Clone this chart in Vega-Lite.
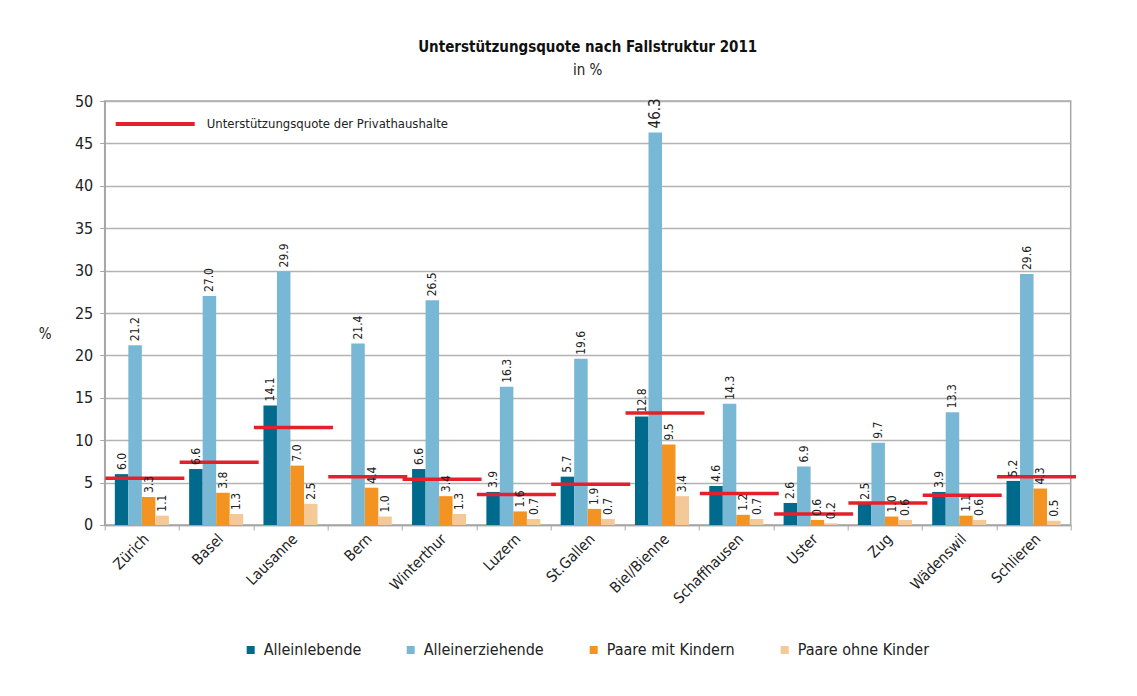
{
  "$schema": "https://vega.github.io/schema/vega-lite/v6.json",
  "width": 966,
  "height": 424,
  "autosize": "none",
  "padding": {"left": 104.7, "top": 101, "right": 66, "bottom": 171},
  "background": "white",
  "title": {
    "text": "Unterstützungsquote nach Fallstruktur 2011",
    "subtitle": "in %",
    "anchor": "middle",
    "offset": 5,
    "fontSize": 15,
    "fontWeight": "bold",
    "font": "Liberation Sans Narrow, DejaVu Sans Condensed, Liberation Sans, sans-serif",
    "subtitleFont": "Liberation Sans Narrow, DejaVu Sans Condensed, Liberation Sans, sans-serif",
    "subtitleFontSize": 15,
    "subtitleColor": "#222",
    "color": "#111",
    "subtitlePadding": 8
  },
  "config": {
    "font": "Liberation Sans Narrow, DejaVu Sans Condensed, Liberation Sans, sans-serif",
    "view": {"stroke": "#a6a6a6", "strokeWidth": 1.5},
    "axis": {
      "labelFont": "Liberation Sans Narrow, DejaVu Sans Condensed, Liberation Sans, sans-serif",
      "titleFont": "Liberation Sans Narrow, DejaVu Sans Condensed, Liberation Sans, sans-serif",
      "labelColor": "#222",
      "titleColor": "#222",
      "domainColor": "#a6a6a6",
      "tickColor": "#a6a6a6",
      "gridColor": "#b3b3b3",
      "gridWidth": 1.3,
      "domainWidth": 1.5
    },
    "legend": {
      "labelFont": "Liberation Sans Narrow, DejaVu Sans Condensed, Liberation Sans, sans-serif",
      "labelColor": "#222",
      "labelLimit": 500
    }
  },
  "datasets": {
    "bars": [
      {"city": "Zürich", "group": "Alleinlebende", "value": 6.0},
      {"city": "Zürich", "group": "Alleinerziehende", "value": 21.2},
      {"city": "Zürich", "group": "Paare mit Kindern", "value": 3.3},
      {"city": "Zürich", "group": "Paare ohne Kinder", "value": 1.1},
      {"city": "Basel", "group": "Alleinlebende", "value": 6.6},
      {"city": "Basel", "group": "Alleinerziehende", "value": 27.0},
      {"city": "Basel", "group": "Paare mit Kindern", "value": 3.8},
      {"city": "Basel", "group": "Paare ohne Kinder", "value": 1.3},
      {"city": "Lausanne", "group": "Alleinlebende", "value": 14.1},
      {"city": "Lausanne", "group": "Alleinerziehende", "value": 29.9},
      {"city": "Lausanne", "group": "Paare mit Kindern", "value": 7.0},
      {"city": "Lausanne", "group": "Paare ohne Kinder", "value": 2.5},
      {"city": "Bern", "group": "Alleinerziehende", "value": 21.4},
      {"city": "Bern", "group": "Paare mit Kindern", "value": 4.4},
      {"city": "Bern", "group": "Paare ohne Kinder", "value": 1.0},
      {"city": "Winterthur", "group": "Alleinlebende", "value": 6.6},
      {"city": "Winterthur", "group": "Alleinerziehende", "value": 26.5},
      {"city": "Winterthur", "group": "Paare mit Kindern", "value": 3.4},
      {"city": "Winterthur", "group": "Paare ohne Kinder", "value": 1.3},
      {"city": "Luzern", "group": "Alleinlebende", "value": 3.9},
      {"city": "Luzern", "group": "Alleinerziehende", "value": 16.3},
      {"city": "Luzern", "group": "Paare mit Kindern", "value": 1.6},
      {"city": "Luzern", "group": "Paare ohne Kinder", "value": 0.7},
      {"city": "St.Gallen", "group": "Alleinlebende", "value": 5.7},
      {"city": "St.Gallen", "group": "Alleinerziehende", "value": 19.6},
      {"city": "St.Gallen", "group": "Paare mit Kindern", "value": 1.9},
      {"city": "St.Gallen", "group": "Paare ohne Kinder", "value": 0.7},
      {"city": "Biel/Bienne", "group": "Alleinlebende", "value": 12.8},
      {"city": "Biel/Bienne", "group": "Alleinerziehende", "value": 46.3},
      {"city": "Biel/Bienne", "group": "Paare mit Kindern", "value": 9.5},
      {"city": "Biel/Bienne", "group": "Paare ohne Kinder", "value": 3.4},
      {"city": "Schaffhausen", "group": "Alleinlebende", "value": 4.6},
      {"city": "Schaffhausen", "group": "Alleinerziehende", "value": 14.3},
      {"city": "Schaffhausen", "group": "Paare mit Kindern", "value": 1.2},
      {"city": "Schaffhausen", "group": "Paare ohne Kinder", "value": 0.7},
      {"city": "Uster", "group": "Alleinlebende", "value": 2.6},
      {"city": "Uster", "group": "Alleinerziehende", "value": 6.9},
      {"city": "Uster", "group": "Paare mit Kindern", "value": 0.6},
      {"city": "Uster", "group": "Paare ohne Kinder", "value": 0.2},
      {"city": "Zug", "group": "Alleinlebende", "value": 2.5},
      {"city": "Zug", "group": "Alleinerziehende", "value": 9.7},
      {"city": "Zug", "group": "Paare mit Kindern", "value": 1.0},
      {"city": "Zug", "group": "Paare ohne Kinder", "value": 0.6},
      {"city": "Wädenswil", "group": "Alleinlebende", "value": 3.9},
      {"city": "Wädenswil", "group": "Alleinerziehende", "value": 13.3},
      {"city": "Wädenswil", "group": "Paare mit Kindern", "value": 1.1},
      {"city": "Wädenswil", "group": "Paare ohne Kinder", "value": 0.6},
      {"city": "Schlieren", "group": "Alleinlebende", "value": 5.2},
      {"city": "Schlieren", "group": "Alleinerziehende", "value": 29.6},
      {"city": "Schlieren", "group": "Paare mit Kindern", "value": 4.3},
      {"city": "Schlieren", "group": "Paare ohne Kinder", "value": 0.5}
    ],
    "lines": [
      {"city": "Zürich", "series": "Unterstützungsquote der Privathaushalte", "rate": 5.5},
      {"city": "Basel", "series": "Unterstützungsquote der Privathaushalte", "rate": 7.4},
      {"city": "Lausanne", "series": "Unterstützungsquote der Privathaushalte", "rate": 11.5},
      {"city": "Bern", "series": "Unterstützungsquote der Privathaushalte", "rate": 5.7},
      {"city": "Winterthur", "series": "Unterstützungsquote der Privathaushalte", "rate": 5.4},
      {"city": "Luzern", "series": "Unterstützungsquote der Privathaushalte", "rate": 3.6},
      {"city": "St.Gallen", "series": "Unterstützungsquote der Privathaushalte", "rate": 4.8},
      {"city": "Biel/Bienne", "series": "Unterstützungsquote der Privathaushalte", "rate": 13.2},
      {"city": "Schaffhausen", "series": "Unterstützungsquote der Privathaushalte", "rate": 3.7},
      {"city": "Uster", "series": "Unterstützungsquote der Privathaushalte", "rate": 1.3},
      {"city": "Zug", "series": "Unterstützungsquote der Privathaushalte", "rate": 2.6},
      {"city": "Wädenswil", "series": "Unterstützungsquote der Privathaushalte", "rate": 3.5},
      {"city": "Schlieren", "series": "Unterstützungsquote der Privathaushalte", "rate": 5.7}
    ]
  },
  "layer": [
    {
      "data": {"name": "bars"},
      "mark": {"type": "bar"},
      "encoding": {
        "x": {
          "field": "city", "type": "nominal",
          "sort": ["Zürich", "Basel", "Lausanne", "Bern", "Winterthur", "Luzern", "St.Gallen", "Biel/Bienne", "Schaffhausen", "Uster", "Zug", "Wädenswil", "Schlieren"],
          "scale": {"paddingInner": 0, "paddingOuter": 0},
          "axis": {
            "title": null, "labelAngle": -45, "labelAlign": "right", "labelBaseline": "middle",
            "labelFontSize": 15, "labelPadding": 6, "labelOffset": 4, "tickSize": 5, "tickBand": "extent", "grid": false
          }
        },
        "xOffset": {
          "field": "group", "type": "nominal",
          "sort": ["Alleinlebende", "Alleinerziehende", "Paare mit Kindern", "Paare ohne Kinder"],
          "scale": {"paddingInner": 0, "paddingOuter": 0.75}
        },
        "y": {
          "field": "value", "type": "quantitative",
          "scale": {"domain": [0, 50]},
          "axis": {
            "title": "%", "titleAngle": 0, "titleX": -60, "titleY": 232, "titleBaseline": "middle", "titleAlign": "center",
            "titleFontSize": 15, "titleFontWeight": "normal",
            "values": [0, 5, 10, 15, 20, 25, 30, 35, 40, 45, 50], "labelFontSize": 16, "labelPadding": 7, "tickSize": 5
          }
        },
        "color": {
          "field": "group", "type": "nominal",
          "scale": {
            "domain": ["Alleinlebende", "Alleinerziehende", "Paare mit Kindern", "Paare ohne Kinder"],
            "range": ["#006A8C", "#79B8D4", "#F39322", "#F5C897"]
          },
          "legend": {
            "title": null, "orient": "none", "legendX": 138, "legendY": 541, "direction": "horizontal",
            "symbolType": "square", "symbolSize": 64, "labelFontSize": 16, "labelOffset": 5, "columnPadding": 41
          }
        }
      }
    },
    {
      "data": {"name": "lines"},
      "mark": {"type": "tick", "size": 79, "thickness": 3.5, "xOffset": 3, "opacity": 1},
      "encoding": {
        "x": {"field": "city", "type": "nominal", "sort": ["Zürich", "Basel", "Lausanne", "Bern", "Winterthur", "Luzern", "St.Gallen", "Biel/Bienne", "Schaffhausen", "Uster", "Zug", "Wädenswil", "Schlieren"]},
        "y": {"field": "rate", "type": "quantitative"},
        "color": {
          "field": "series", "type": "nominal",
          "scale": {"range": ["#E3202B"]},
          "legend": {
            "title": null, "orient": "none", "legendX": 9, "legendY": -18.5,
            "symbolType": "stroke", "symbolSize": 6241, "symbolStrokeWidth": 4, "symbolStrokeColor": "#E3202B", "symbolOpacity": 1,
            "labelFontSize": 13, "labelOffset": 10
          }
        }
      }
    },
    {
      "data": {"name": "bars"},
      "mark": {"type": "text", "angle": 270, "align": "left", "baseline": "middle", "dx": 4, "color": "#222"},
      "encoding": {
        "x": {"field": "city", "type": "nominal", "sort": ["Zürich", "Basel", "Lausanne", "Bern", "Winterthur", "Luzern", "St.Gallen", "Biel/Bienne", "Schaffhausen", "Uster", "Zug", "Wädenswil", "Schlieren"]},
        "xOffset": {"field": "group", "type": "nominal", "sort": ["Alleinlebende", "Alleinerziehende", "Paare mit Kindern", "Paare ohne Kinder"]},
        "y": {"field": "value", "type": "quantitative"},
        "text": {"field": "value", "type": "quantitative", "format": ".1f"},
        "size": {"condition": {"test": "datum.value > 40", "value": 15}, "value": 12}
      }
    }
  ],
  "resolve": {"scale": {"color": "independent"}, "legend": {"color": "independent"}}
}
